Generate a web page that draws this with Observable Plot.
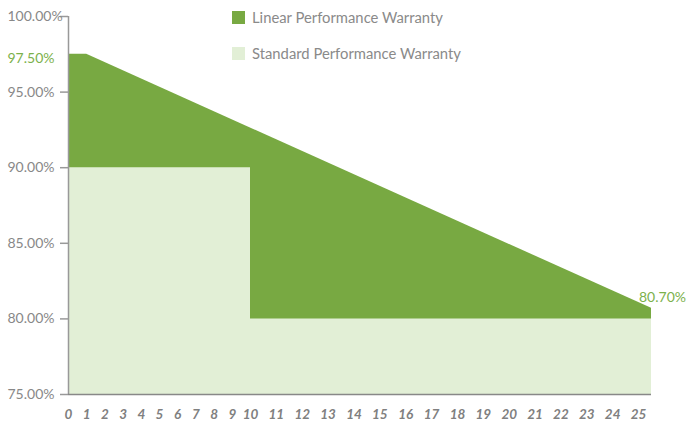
<!DOCTYPE html>
<html>
<head>
<meta charset="utf-8">
<script src="https://cdn.jsdelivr.net/npm/d3@7"></script>
<script src="https://cdn.jsdelivr.net/npm/@observablehq/plot@0.6"></script>
<style>
  html, body { margin: 0; padding: 0; background: #fff; }
  #wrap { position: relative; width: 686px; height: 425px; font-family: Lato, "Open Sans", sans-serif; }
  .legend { position: absolute; left: 232px; font-size: 14.8px; color: #8a8a8a; display: flex; align-items: center; white-space: nowrap; }
  .legend .sw { width: 13px; height: 13px; margin-right: 7px; }
</style>
</head>
<body>
<div id="wrap"></div>
<script>
// Data
const linearYears = [0, 1, 25.5];
const linearValues = [97.5, 97.5, 80.7];
const standardYears = [0, 10, 10, 25.5];
const standardValues = [90, 90, 80, 80];
const yTicks = [75, 80, 85, 90, 95, 100];
const xTicks = d3.range(0, 26);
const seriesNames = ["Linear Performance Warranty", "Standard Performance Warranty"];
const seriesColors = ["#78a942", "#e2efd6"];
const startLabel = {year: 0, value: 97.5, text: "97.50%"};
const endLabel = {year: 25.5, value: 80.7, text: "80.70%"};

const linear = linearYears.map((x, i) => ({year: x, value: linearValues[i]}));
const standard = standardYears.map((x, i) => ({year: x, value: standardValues[i]}));

const chart = Plot.plot({
  width: 686,
  height: 425,
  marginLeft: 68,
  marginRight: 35,
  marginTop: 16,
  marginBottom: 31,
  style: {fontFamily: "Lato, 'Open Sans', sans-serif", background: "#fff"},
  x: {type: "linear", domain: [0, 10, 25.5], range: [68, 250, 651], axis: null},
  y: {type: "linear", domain: [75, 100], axis: null, label: null},
  marks: [
    Plot.areaY(linear, {x: "year", y1: 75, y2: "value", fill: seriesColors[0]}),
    Plot.areaY(standard, {x: "year", y1: 75, y2: "value", fill: seriesColors[1]}),
    Plot.ruleX([0], {y1: 75, y2: 100, stroke: "#999", strokeWidth: 1.5}),
    Plot.ruleY([75], {x1: 0, x2: 25.5, stroke: "#888", strokeWidth: 1.5}),
    Plot.axisY({ticks: yTicks, tickSize: 8, stroke: "#999", strokeWidth: 1.5, label: null, fill: "none", tickFormat: () => ""}),
    Plot.text(yTicks, {y: d => d, text: d => d.toFixed(2) + "%", frameAnchor: "left", textAnchor: "start", dx: -61, fill: "#888", fontSize: 14}),
    Plot.text([startLabel], {x: "year", y: "value", text: "text", frameAnchor: "left", textAnchor: "start", dx: -61, dy: 4, fill: "#7cb14b", fontSize: 14}),
    Plot.text([endLabel], {x: "year", y: "value", text: "text", textAnchor: "middle", dx: 11, dy: -11, fill: "#7cb14b", fontSize: 14}),
    Plot.text(xTicks, {x: d => d, frameAnchor: "bottom", dy: 24, text: d => String(d),
      fill: "#808080", fontSize: 13.5, fontStyle: "italic", fontWeight: "bold"})
  ]
});

const wrap = document.getElementById("wrap");
wrap.appendChild(chart);
[[17, 0], [53, 1]].forEach(([top, i]) => {
  const d = document.createElement("div");
  d.className = "legend";
  d.style.top = (top - 9) + "px";
  d.innerHTML = `<span class="sw" style="background:${seriesColors[i]}"></span><span>${seriesNames[i]}</span>`;
  wrap.appendChild(d);
});
</script>
</body>
</html>
